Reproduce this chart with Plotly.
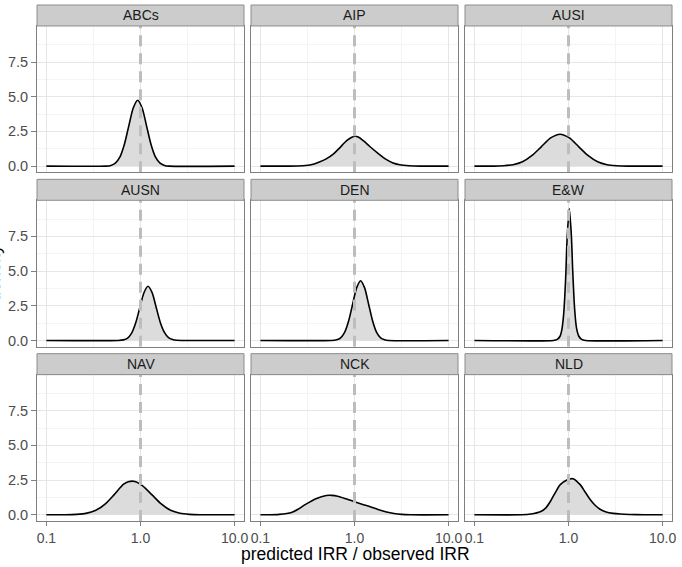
import plotly.graph_objects as go

panels = ["ABCs", "AIP", "AUSI", "AUSN", "DEN", "E&W", "NAV", "NCK", "NLD"]

x_ABCs = [0.1, 0.43, 0.484, 0.540, 0.603, 0.672, 0.750, 0.837, 0.933, 1.041, 1.161, 1.296, 1.445, 1.613, 1.799, 2.0, 10]
y_ABCs = [0, 0, 0.05, 0.21, 0.64, 1.54, 2.88, 4.19, 4.75, 4.19, 2.88, 1.54, 0.64, 0.21, 0.05, 0, 0]

x_AIP = [0.1, 0.2, 0.282, 0.355, 0.417, 0.501, 0.603, 0.692, 0.832, 1.0, 1.096, 1.259, 1.445, 1.778, 2.168, 2.570, 3.020, 3.802, 5.012, 10]
y_AIP = [0, 0, 0.03, 0.12, 0.28, 0.52, 0.9, 1.3, 1.85, 2.15, 2.1, 1.8, 1.43, 0.92, 0.48, 0.22, 0.1, 0.03, 0, 0]

x_AUSI = [0.1, 0.16, 0.204, 0.257, 0.324, 0.407, 0.513, 0.646, 0.813, 1.023, 1.288, 1.622, 2.042, 2.570, 3.236, 4.2, 10]
y_AUSI = [0, 0, 0.03, 0.10, 0.31, 0.75, 1.39, 2.03, 2.3, 2.03, 1.39, 0.75, 0.31, 0.10, 0.03, 0, 0]

x_AUSN = [0.1, 0.58, 0.659, 0.729, 0.805, 0.890, 0.984, 1.088, 1.202, 1.329, 1.469, 1.623, 1.795, 1.984, 2.193, 2.43, 10]
y_AUSN = [0, 0, 0.04, 0.17, 0.53, 1.27, 2.37, 3.44, 3.9, 3.44, 2.37, 1.3, 0.58, 0.2, 0.06, 0.01, 0]

x_DEN = [0.1, 0.57, 0.646, 0.712, 0.785, 0.866, 0.955, 1.053, 1.161, 1.281, 1.413, 1.558, 1.718, 1.895, 2.089, 2.3, 10]
y_DEN = [0, 0, 0.05, 0.19, 0.58, 1.40, 2.61, 3.79, 4.3, 3.79, 2.61, 1.40, 0.58, 0.19, 0.05, 0, 0]

x_EW = [0.1, 0.692, 0.759, 0.813, 0.851, 0.891, 0.933, 0.966, 1.019, 1.072, 1.109, 1.161, 1.216, 1.288, 1.380, 1.514, 10]
y_EW = [0, 0, 0.08, 0.3, 0.8, 2.0, 4.5, 7.3, 9.5, 7.6, 5.0, 2.3, 0.9, 0.3, 0.08, 0, 0]

x_NAV = [0.1, 0.16, 0.209, 0.263, 0.331, 0.417, 0.525, 0.661, 0.741, 0.871, 1.047, 1.318, 1.660, 2.089, 2.630, 3.311, 4.3, 10]
y_NAV = [0, 0, 0.03, 0.1, 0.3, 0.75, 1.45, 2.2, 2.38, 2.4, 2.1, 1.45, 0.78, 0.32, 0.11, 0.03, 0, 0]

x_NCK = [0.1, 0.126, 0.158, 0.214, 0.251, 0.302, 0.389, 0.501, 0.575, 0.661, 0.813, 1.0, 1.202, 1.445, 1.778, 2.188, 2.630, 3.162, 3.981, 10]
y_NCK = [0, 0, 0.03, 0.17, 0.4, 0.75, 1.16, 1.39, 1.4, 1.34, 1.15, 0.94, 0.76, 0.59, 0.38, 0.2, 0.09, 0.03, 0, 0]

x_NLD = [0.1, 0.316, 0.398, 0.501, 0.575, 0.646, 0.724, 0.817, 0.962, 1.112, 1.330, 1.514, 1.698, 1.905, 2.163, 2.512, 2.985, 3.548, 4.467, 6.310, 10]
y_NLD = [0, 0, 0.05, 0.21, 0.5, 0.99, 1.6, 2.17, 2.5, 2.6, 2.17, 1.6, 1.1, 0.7, 0.4, 0.2, 0.1, 0.05, 0.02, 0, 0]

xs = [x_ABCs, x_AIP, x_AUSI, x_AUSN, x_DEN, x_EW, x_NAV, x_NCK, x_NLD]
ys = [y_ABCs, y_AIP, y_AUSI, y_AUSN, y_DEN, y_EW, y_NAV, y_NCK, y_NLD]

x_tickvals = [0.1, 1, 10]
x_ticktext = ["0.1", "1.0", "10.0"]
x_minor = [0.316, 3.16]
y_tickvals = [0, 2.5, 5, 7.5]
y_ticktext = ["0.0", "2.5", "5.0", "7.5"]
y_minor = [1.25, 3.75, 6.25, 8.75]
ref_value = 1

W, H = 682, 567
ML, MR, MT, MB = 37, 10, 5, 45.5
PW = W - ML - MR
PH = H - MT - MB
col_px = [(37, 244), (251, 458), (465, 672)]
strip_h = 21
row_px = [(26, 172.5), (200.5, 347), (375, 521.5)]

YR = [-0.45, 10.1]
XR = [-1.1, 1.1]

FONT = "Liberation Sans, Arial, Helvetica, sans-serif"
fig = go.Figure()
layout = dict(width=W, height=H, margin=dict(l=ML, r=MR, t=MT, b=MB),
              plot_bgcolor="white", paper_bgcolor="white", showlegend=False,
              font=dict(family=FONT, color="#4d4d4d"))
shapes = []
annotations = []

def px_to_paper_x(px):
    return (px - ML) / PW

def px_to_paper_y(py):
    return (H - MB - py) / PH

for i, name in enumerate(panels):
    r, c = divmod(i, 3)
    k = i + 1
    xa = "x" if k == 1 else f"x{k}"
    ya = "y" if k == 1 else f"y{k}"
    fig.add_trace(go.Scatter(x=xs[i], y=ys[i], xaxis=xa, yaxis=ya, mode="lines",
                             line=dict(color="black", width=1.6, shape="spline", smoothing=0.7),
                             fill="tozeroy", fillcolor="#dcdcdc", hoverinfo="skip"))
    fig.add_trace(go.Scatter(x=[ref_value, ref_value], y=YR, xaxis=xa, yaxis=ya, mode="lines",
                             line=dict(color="#bdbdbd", width=3, dash="11px,7px"), hoverinfo="skip"))
    x0, x1 = col_px[c]
    y0, y1 = row_px[r]
    xd = [px_to_paper_x(x0), px_to_paper_x(x1)]
    yd = [px_to_paper_y(y1), px_to_paper_y(y0)]
    layout["xaxis" if k == 1 else f"xaxis{k}"] = dict(
        type="log", range=XR, domain=xd, anchor=ya,
        tickvals=x_tickvals, ticktext=x_ticktext,
        showticklabels=(r == 2), ticks="outside" if r == 2 else "",
        ticklen=4, tickcolor="#7f7f7f", tickwidth=1,
        tickfont=dict(size=14, color="#4d4d4d", family=FONT),
        showgrid=True, gridcolor="#e6e6e6", gridwidth=1,
        minor=dict(tickvals=x_minor, showgrid=True, gridcolor="#f4f4f4", gridwidth=1, ticks=""),
        showline=True, mirror=True, linecolor="#7f7f7f", linewidth=1, zeroline=False)
    layout["yaxis" if k == 1 else f"yaxis{k}"] = dict(
        range=YR, domain=yd, anchor=xa,
        tickvals=y_tickvals, ticktext=y_ticktext,
        showticklabels=(c == 0), ticks="outside" if c == 0 else "",
        ticklen=5, tickcolor="#7f7f7f", tickwidth=1,
        tickfont=dict(size=14.5, color="#4d4d4d", family=FONT),
        showgrid=True, gridcolor="#e6e6e6", gridwidth=1,
        minor=dict(tickvals=y_minor, showgrid=True, gridcolor="#f4f4f4", gridwidth=1, ticks=""),
        showline=True, mirror=True, linecolor="#7f7f7f", linewidth=1, zeroline=False)
    # strip
    shapes.append(dict(type="rect", xref="paper", yref="paper",
                       x0=xd[0], x1=xd[1], y0=px_to_paper_y(y0), y1=px_to_paper_y(y0 - strip_h),
                       fillcolor="#cccccc", line=dict(color="#8c8c8c", width=1), layer="above"))
    annotations.append(dict(text=name, xref="paper", yref="paper",
                            x=(xd[0] + xd[1]) / 2, y=px_to_paper_y(y0 - strip_h / 2),
                            xanchor="center", yanchor="middle", showarrow=False,
                            font=dict(size=14, color="#1a1a1a", family=FONT)))

annotations.append(dict(text="predicted IRR / observed IRR", xref="paper", yref="paper",
                        x=px_to_paper_x(356), y=px_to_paper_y(555), xanchor="center", yanchor="middle",
                        showarrow=False, font=dict(size=17.5, color="black", family=FONT)))
annotations.append(dict(text="density", xref="paper", yref="paper", textangle=-90,
                        x=px_to_paper_x(-6), y=px_to_paper_y(274), xanchor="center", yanchor="middle",
                        showarrow=False, font=dict(size=18, color="black", family=FONT)))
layout["shapes"] = shapes
layout["annotations"] = annotations
fig.update_layout(**layout)
fig.write_html("out.html")
